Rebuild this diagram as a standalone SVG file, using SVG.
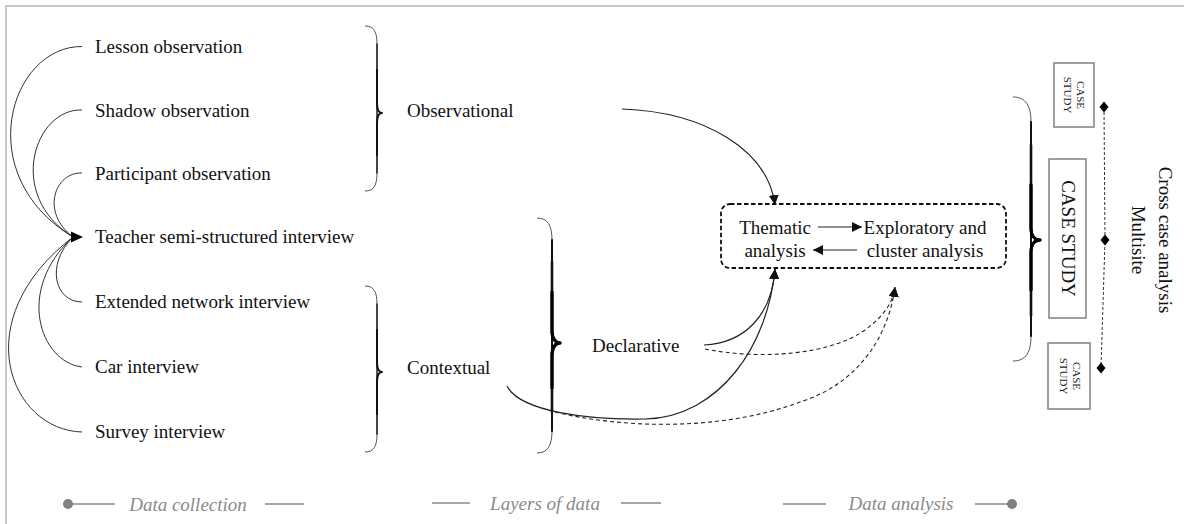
<svg xmlns="http://www.w3.org/2000/svg" width="1184" height="524" viewBox="0 0 1184 524">
  <style>
    .t { font-family: "Liberation Serif", "Times New Roman", serif; font-size: 19px; fill: #111; }
    .mid { text-anchor: middle; }
    .small { font-family: "Liberation Serif", "Times New Roman", serif; font-size: 11px; fill: #222; text-anchor: middle; }
    .cap { font-family: "Liberation Serif", "Times New Roman", serif; font-size: 19px; font-style: italic; fill: #8a8a8a; text-anchor: middle; }
    .capline { stroke: #8a8a8a; stroke-width: 1.3; fill: none; }
    .src { stroke: #333; stroke-width: 1; fill: none; }
    .conn { stroke: #222; stroke-width: 1.2; fill: none; }
    .dash { stroke: #222; stroke-width: 1.1; fill: none; stroke-dasharray: 4 3; }
    .brace { stroke: #555; stroke-width: 1; fill: none; }
    .b1 { stroke: #222; stroke-width: 1.5; fill: none; stroke-linecap: round; stroke-linejoin: round; }
    .b2 { stroke: #111; stroke-width: 2; fill: none; stroke-linecap: round; stroke-linejoin: round; }
    .b3 { stroke: #111; stroke-width: 2.6; fill: none; stroke-linecap: round; stroke-linejoin: round; }
    .b4 { stroke: #000; stroke-width: 3.3; fill: none; stroke-linecap: round; stroke-linejoin: round; }
    .cs { fill: #fff; stroke: #808080; stroke-width: 1.5; }
  </style>
  <defs>
    <marker id="ah" viewBox="0 0 10 10" refX="10" refY="5" markerWidth="10" markerHeight="10" markerUnits="userSpaceOnUse" orient="auto">
      <path d="M0,0 L10,5 L0,10 z" fill="#111"/>
    </marker>
  </defs>

  <!-- frame -->
  <path d="M6,524 V6 H1184" stroke="#c8c8c8" stroke-width="2" fill="none"/>

  <!-- data sources -->
  <g id="lesson-observation"><text class="t" x="95" y="53">Lesson observation</text></g>
  <g id="shadow-observation"><text class="t" x="95" y="116.5">Shadow observation</text></g>
  <g id="participant-observation"><text class="t" x="95" y="180">Participant observation</text></g>
  <g id="teacher-interview"><text class="t" x="95" y="243">Teacher semi-structured interview</text></g>
  <g id="extended-network-interview"><text class="t" x="95" y="308">Extended network interview</text></g>
  <g id="car-interview"><text class="t" x="95" y="373">Car interview</text></g>
  <g id="survey-interview"><text class="t" x="95" y="438">Survey interview</text></g>

  <!-- layers of data -->
  <g id="observational">
    <path class="brace" d="M365,26 C374,26 377,32 377,44 L377,103 C377,110 379,113 382,113 C379,113 377,116 377,123 L377,173 C377,185 374,191 365,191"/>
    <path class="b1" d="M377,44 L377,173"/>
    <path class="b2" d="M377,70 L377,103 C377,110 379,113 382,113 C379,113 377,116 377,123 L377,155"/>
    <text class="t" x="407" y="116.5">Observational</text>
  </g>
  <g id="contextual">
    <path class="brace" d="M365,286 C374,286 377,292 377,304 L377,362 C377,369 379,372 382,372 C379,372 377,375 377,382 L377,434 C377,446 374,452 365,452"/>
    <path class="b1" d="M377,304 L377,434"/>
    <path class="b2" d="M377,330 L377,362 C377,369 379,372 382,372 C379,372 377,375 377,382 L377,414"/>
    <text class="t" x="407" y="374">Contextual</text>
  </g>
  <g id="declarative">
    <path class="brace" d="M537,218 C548,218 552,226 552,240 L552,331 C552,339 556,343 560,343 C556,343 552,347 552,355 L552,431 C552,445 548,453 537,453"/>
    <path class="b2" d="M552,240 L552,431"/>
    <path class="b3" d="M552,262 L552,331 C552,339 556,343 560,343 C556,343 552,347 552,355 L552,412"/>
    <path class="b4" d="M552,292 L552,331 C552,339 556,343 560,343 C556,343 552,347 552,355 L552,388"/>
    <text class="t" x="592" y="352">Declarative</text>
  </g>

  <!-- analysis box -->
  <g id="analysis">
    <rect x="721" y="204" width="285" height="64" rx="9" ry="9" fill="none" stroke="#111" stroke-width="1.8" stroke-dasharray="4.5 2.5"/>
    <text class="t mid" x="775" y="234">Thematic</text>
    <text class="t mid" x="775" y="257">analysis</text>
    <text class="t mid" x="925" y="234">Exploratory and</text>
    <text class="t mid" x="925" y="257">cluster analysis</text>
    <line class="conn" x1="818" y1="227" x2="862" y2="227" marker-end="url(#ah)"/>
    <line class="conn" x1="857" y1="250" x2="813" y2="250" marker-end="url(#ah)"/>
  </g>

  <!-- case studies -->
  <g id="case-studies">
    <path class="brace" d="M1013,97 C1026,97 1031,106 1031,122 L1031,228 C1031,236 1035,240 1040,240 C1035,240 1031,244 1031,252 L1031,336 C1031,352 1026,361 1013,361"/>
    <path class="b2" d="M1031,122 L1031,336"/>
    <path class="b3" d="M1031,145 L1031,228 C1031,236 1035,240 1040,240 C1035,240 1031,244 1031,252 L1031,316"/>
    <path class="b4" d="M1031,185 L1031,228 C1031,236 1035,240 1040,240 C1035,240 1031,244 1031,252 L1031,290"/>
    <g id="case-study-1">
      <rect class="cs" x="1054" y="63" width="40" height="64"/>
      <g transform="translate(1074,95) rotate(90)">
        <text class="small" x="0" y="-2.5">CASE</text>
        <text class="small" x="0" y="10.5">STUDY</text>
      </g>
    </g>
    <g id="case-study-2">
      <rect class="cs" x="1049" y="159" width="37" height="159"/>
      <g transform="translate(1068,238.5) rotate(90)">
        <text class="t mid" x="0" y="6.5">CASE STUDY</text>
      </g>
    </g>
    <g id="case-study-3">
      <rect class="cs" x="1048" y="343" width="42" height="66"/>
      <g transform="translate(1070,376) rotate(90)">
        <text class="small" x="0" y="-2.5">CASE</text>
        <text class="small" x="0" y="10.5">STUDY</text>
      </g>
    </g>
    <polyline points="1104,107 1105,240 1101,368" fill="none" stroke="#333" stroke-width="1" stroke-dasharray="3 2"/>
    <path d="M1104,101.5 L1108.5,107 L1104,112.5 L1099.5,107 z" fill="#000"/>
    <path d="M1105,234.5 L1109.5,240 L1105,245.5 L1100.5,240 z" fill="#000"/>
    <path d="M1101,362.5 L1105.5,368 L1101,373.5 L1096.5,368 z" fill="#000"/>
  </g>
  <g id="multisite">
    <g transform="translate(1152,240) rotate(90)">
      <text class="t mid" x="0" y="-7">Cross case analysis</text>
      <text class="t mid" x="0" y="20">Multisite</text>
    </g>
  </g>

  <!-- captions -->
  <g id="caption-collection">
    <circle cx="68" cy="504" r="5" fill="#808080"/>
    <line class="capline" x1="68" y1="504" x2="115" y2="504"/>
    <text class="cap" x="188" y="511">Data collection</text>
    <line class="capline" x1="265" y1="504" x2="304" y2="504"/>
  </g>
  <g id="caption-layers">
    <line class="capline" x1="432" y1="503" x2="470" y2="503"/>
    <text class="cap" x="545" y="510">Layers of data</text>
    <line class="capline" x1="621" y1="503" x2="661" y2="503"/>
  </g>
  <g id="caption-analysis">
    <line class="capline" x1="783" y1="504" x2="826" y2="504"/>
    <text class="cap" x="901" y="510">Data analysis</text>
    <line class="capline" x1="975" y1="504" x2="1012" y2="504"/>
    <circle cx="1012" cy="504" r="5" fill="#808080"/>
  </g>

  <!-- connectors -->
  <g id="connectors">
    <path class="src" d="M82,46.5 C10,46 -30,175 73,237"/>
    <path class="src" d="M82,110 C35,108 5,195 73,237"/>
    <path class="src" d="M82,173 C55,172 40,212 73,237"/>
    <path class="src" d="M82,302 C55,302 45,265 73,237"/>
    <path class="src" d="M82,367 C40,362 15,290 73,237"/>
    <path class="src" d="M82,432 C10,430 -35,320 73,237"/>
    <path d="M71,231.5 L83,237 L71,242.5 z" fill="#000"/>

    <path class="conn" d="M622,109 C705,112 768,150 775,205" marker-end="url(#ah)"/>
    <path class="conn" d="M704,345 C745,343 772,315 775,269" marker-end="url(#ah)"/>
    <path class="conn" d="M507,386 C520,412 590,420 645,419 C720,417 768,345 775,269" marker-end="url(#ah)"/>
    <path class="dash" d="M705,349 C760,360 830,355 865,330 C885,315 893,302 895,287" marker-end="url(#ah)"/>
    <path class="dash" d="M555,412 C620,428 720,432 800,402 C855,385 888,340 895,287" marker-end="url(#ah)"/>
  </g>
</svg>
